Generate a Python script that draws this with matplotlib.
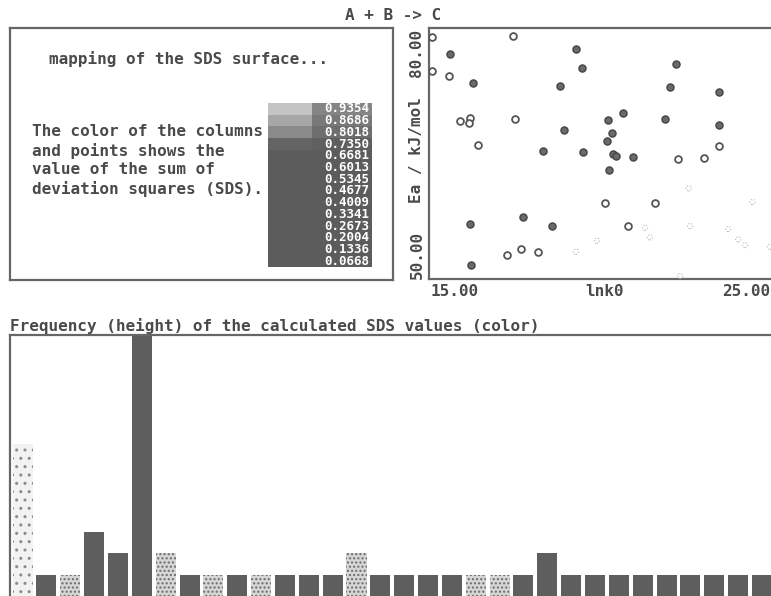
import numpy as np
import matplotlib
matplotlib.use('Agg')
import matplotlib.pyplot as plt

# ---- data ----
# colour scale of the SDS values (legend block, bottom to top)
sds_levels = [0.0668, 0.1336, 0.2004, 0.2673, 0.3341, 0.4009, 0.4677,
              0.5345, 0.6013, 0.6681, 0.7350, 0.8018, 0.8686, 0.9354]

# scatter: lnk0 vs Ea, with a rough colour class (0 dark, 1 ring, 2 faint)
lnk0 = [15.10, 17.43, 15.61, 15.10, 15.58, 19.27, 19.45, 22.17, 16.29, 18.81,
        22.01, 23.44, 15.90, 16.19, 16.17, 17.50, 20.63, 20.19, 21.86, 23.44,
        18.93, 20.31, 20.18, 16.42, 23.44, 18.32, 19.47, 20.34, 20.44, 20.94,
        22.23, 22.99, 20.22, 22.55, 20.12, 21.57, 24.41, 16.19, 17.74, 18.58,
        20.78, 21.28, 21.42, 22.59, 23.70, 23.99, 24.19, 19.88, 19.27, 17.28,
        17.67, 18.18, 16.22, 22.30, 24.91]
ea = [78.89, 79.04, 76.89, 74.86, 74.26, 77.52, 75.18, 75.73, 73.39, 73.03,
      72.98, 72.35, 68.92, 69.21, 68.68, 69.09, 69.88, 69.00, 69.12, 68.37,
      67.84, 67.41, 66.53, 66.02, 65.93, 65.33, 65.14, 64.94, 64.74, 64.58,
      64.38, 64.50, 63.03, 60.84, 59.05, 59.05, 59.20, 56.54, 57.45, 56.37,
      56.37, 56.13, 54.98, 56.33, 55.98, 54.74, 54.06, 54.58, 53.26, 52.83,
      53.55, 53.26, 51.67, 50.36, 53.86]
pt_class = [1, 1, 0, 1, 1, 0, 0, 0, 0, 0,
            0, 0, 1, 1, 1, 1, 0, 0, 0, 0,
            0, 0, 0, 1, 1, 0, 0, 0, 0, 0,
            1, 1, 0, 2, 1, 1, 2, 0, 0, 0,
            1, 2, 2, 2, 2, 2, 2, 2, 2, 1,
            1, 1, 0, 2, 2]

# histogram: frequency of the SDS values, and whether the column is light
freq = [7, 1, 1, 3, 2, 12, 2, 1, 1, 1, 1, 1, 1, 1, 2, 1,
        1, 1, 1, 1, 1, 1, 2, 1, 1, 1, 1, 1, 1, 1, 1, 1]
light = [2, 0, 1, 0, 0, 0, 1, 0, 1, 0, 1, 0, 0, 0, 1, 0,
         0, 0, 0, 1, 1, 0, 0, 0, 0, 0, 0, 0, 0, 0, 0, 0]

W, H = 771, 596
GRAY = '#5e5e5e'
TXT = '#4a4a4a'
FONT = 'DejaVu Sans Mono'
FS = 11.5

fig = plt.figure(figsize=(W / 100, H / 100), dpi=100)
fig.patch.set_facecolor('white')


def px_axes(l, t, r, b):
    return fig.add_axes([l / W, 1 - b / H, (r - l) / W, (b - t) / H])


def fx(x):
    return x / W


def fy(y):
    return 1 - y / H


def frame(ax, sides=('left', 'right', 'top', 'bottom')):
    for s, sp in ax.spines.items():
        sp.set_visible(s in sides)
        sp.set_color('#666666')
        sp.set_linewidth(1.6)
    ax.set_xticks([])
    ax.set_yticks([])


# title
fig.text(fx(393), fy(16), 'A + B -> C', ha='center', va='center',
         family=FONT, weight='bold', size=FS, color=TXT)

# ---- info box (top left) ----
box = px_axes(10, 28, 393, 280)
frame(box)
fig.text(fx(49), fy(59), 'mapping of the SDS surface...', ha='left',
         va='center', family=FONT, weight='bold', size=FS, color=TXT)
info = ['The color of the columns', 'and points shows the',
        'value of the sum of', 'deviation squares (SDS).']
for k, line in enumerate(info):
    fig.text(fx(32), fy(132 + 19 * k), line, ha='left', va='center',
             family=FONT, weight='bold', size=FS, color=TXT)

# colour legend block
leg = px_axes(268, 103, 372, 267)
leg_cols = ['#5c5c5c'] * 10 + ['#646464', '#8a8a8a', '#a6a6a6', '#c4c4c4']
for k, (lv, c) in enumerate(zip(sds_levels, leg_cols)):
    leg.add_patch(plt.Rectangle((0, k), 1, 1, facecolor=c, edgecolor='none'))
    leg.add_patch(plt.Rectangle((0.42, k), 0.58, 1, facecolor='#5c5c5c',
                                edgecolor='none', alpha=0.6))
    leg.text(0.97, k + 0.5, f'{lv:.4f}', ha='right', va='center',
             family=FONT, weight='bold', size=9, color='white')
leg.set_xlim(0, 1)
leg.set_ylim(0, len(sds_levels))
leg.axis('off')

# ---- scatter (top right) ----
sc = px_axes(429, 28, 773, 279)
frame(sc)
sc.set_xlim(15, 25)
sc.set_ylim(50, 80)
x = np.array(lnk0)
y = np.array(ea)
cl = np.array(pt_class)
sc.scatter(x[cl == 0], y[cl == 0], s=26, facecolor='#6a6a6a',
           edgecolor='#444444', linewidth=1.0, zorder=3)
sc.scatter(x[cl == 1], y[cl == 1], s=24, facecolor='white',
           edgecolor='#555555', linewidth=1.3, zorder=3)
sc.scatter(x[cl == 2], y[cl == 2], s=14, facecolor='none',
           edgecolor='#b5b5b5', linewidth=0.8, linestyle=':', zorder=3)

fig.text(fx(430), fy(291), '15.00', ha='left', va='center', family=FONT,
         weight='bold', size=FS, color=TXT)
fig.text(fx(605), fy(291), 'lnk0', ha='center', va='center', family=FONT,
         weight='bold', size=FS, color=TXT)
fig.text(fx(770), fy(291), '25.00', ha='right', va='center', family=FONT,
         weight='bold', size=FS, color=TXT)
fig.text(fx(417), fy(279), '50.00', ha='center', va='bottom', rotation=90,
         family=FONT, weight='bold', size=FS, color=TXT)
fig.text(fx(417), fy(150), 'Ea / kJ/mol', ha='center', va='center',
         rotation=90, family=FONT, weight='bold', size=FS, color=TXT)
fig.text(fx(417), fy(29), '80.00', ha='center', va='top', rotation=90,
         family=FONT, weight='bold', size=FS, color=TXT)

# ---- histogram (bottom) ----
hist = px_axes(10, 335, 775, 597)
frame(hist, sides=('left', 'top'))
for i, (f, lt) in enumerate(zip(freq, light)):
    if lt == 2:
        hist.bar(i, f, width=0.84, facecolor='#f2f2f2', edgecolor='#8a8a8a',
                 hatch='..', linewidth=0)
    elif lt == 1:
        hist.bar(i, f, width=0.84, facecolor='#d6d6d6', edgecolor='#6a6a6a',
                 hatch='....', linewidth=0)
    else:
        hist.bar(i, f, width=0.84, color=GRAY, linewidth=0)
hist.set_xlim((10 - 22.6) / 23.85, (775 - 22.6) / 23.85)
hist.set_ylim(0, 12)

fig.text(fx(10), fy(326), 'Frequency (height) of the calculated SDS values (color)',
         ha='left', va='center', family=FONT, weight='bold', size=FS, color=TXT)

plt.savefig('out.png', dpi=100)
